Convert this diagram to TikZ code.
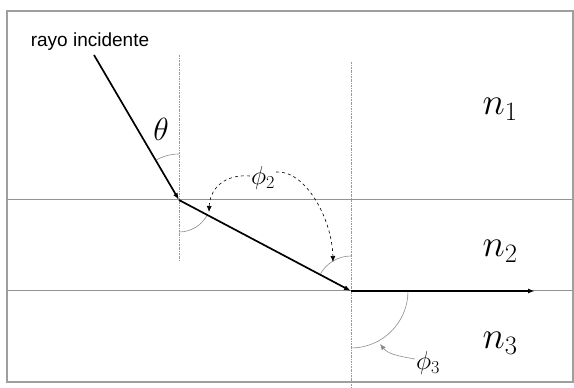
\documentclass[tikz,border=0pt]{standalone}
\usepackage{fix-cm}
\usepackage{fontspec}
\newfontfamily\arialfont{Liberation Sans}
\usetikzlibrary{arrows.meta}
\usetikzlibrary{positioning,calc}

\begin{document}
\begin{tikzpicture}[x=1pt, y=1pt,
      ray/.style={line width=1.7pt, -{Latex[length=7pt,width=5pt]}},
      border/.style={draw=gray!75, line width=1.2pt},
      interface/.style={draw=gray!85, line width=1pt},
      normal/.style={draw=gray!80, line width=0.8pt,
        dash pattern=on 2pt off 1pt on 0.6pt off 1pt},
      angarc/.style={draw=gray!90, line width=0.6pt},
      lab/.style={font=\fontsize{26}{28}\selectfont},
      medium/.style={font=\fontsize{38}{42}\selectfont}
      ]
    \useasboundingbox (0,0) rectangle (574,388);
    \draw[border] (7,6) rectangle (573,377);

    % interfaces
    \draw[interface] (7,188) -- (573,188);
    \draw[interface] (7,97) -- (573,97);

    \coordinate (src) at (94,333);
    \coordinate (p1) at (179,188);
    \coordinate (p2) at (351,97);
    \coordinate (out) at (535,97);

    % normals
    \draw[normal] (179,333) -- (179,126);
    \draw[normal] (351,326) -- (351,0);

    \node (rayo) at (90,346) [font=\arialfont\fontsize{19}{21}\selectfont] {rayo incidente};
    \node (n1) at (500,279) [medium] {$n_1$};
    \node (n2) at (500,137) [medium] {$n_2$};
    \node (n3) at (500,45) [medium] {$n_3$};

    % angles
    \draw[angarc] ([shift={(90:46)}] p1) arc (90:120.5:46);
    \draw[angarc] ([shift={(270:32)}] p1) arc (270:332:32);
    \draw[angarc] ([shift={(90:35)}] p2) arc (90:152:35);
    \draw[angarc] ([shift={(0:57)}] p2) arc (0:-90:57);

    \node (theta) at (161,259) [font=\fontsize{32}{34}\selectfont] {$\theta$};
    \node (phi2) at (263,210) [lab, inner sep=1pt] {$\phi_2$};
    \node (phi3) at (428,25) [lab, inner sep=1pt] {$\phi_3$};

    \draw[dashed, line width=0.6pt, -{Latex[length=6pt,width=5pt]}]
    ([yshift=2pt] phi2.west) .. controls (225,214) and (210,200) .. (209,176);
    \draw[dashed, line width=0.6pt, -{Latex[length=6pt,width=5pt]}]
    ([yshift=6pt] phi2.east) .. controls (305,218) and (332,170) .. (333,126);
    \draw[angarc, -{Latex[length=6pt,width=5pt]}]
    ([yshift=4pt] phi3.west) .. controls (398,32) and (388,34) .. (380,44);

    % rays
    \draw[ray] (src) -- (p1);
    \draw[ray] (p1) -- (p2);
    \draw[ray] (p2) -- (out);
  \end{tikzpicture}
\end{document}
